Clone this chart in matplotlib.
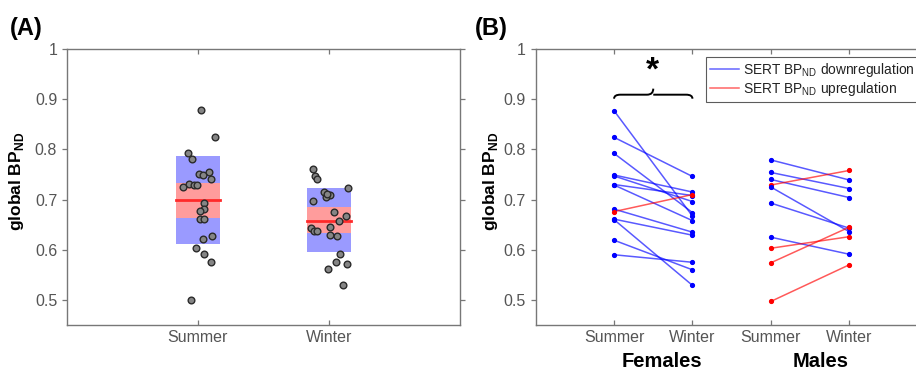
import numpy as np
import matplotlib
matplotlib.use('Agg')
import matplotlib.pyplot as plt
from matplotlib.path import Path
from matplotlib.patches import PathPatch, Rectangle
from matplotlib.lines import Line2D

plt.rcParams['font.family'] = ['Liberation Sans', 'DejaVu Sans']
plt.rcParams['mathtext.fontset'] = 'custom'
plt.rcParams['mathtext.rm'] = 'Liberation Sans'
plt.rcParams['mathtext.bf'] = 'Liberation Sans:bold'

# ---- panel A data ----
seasons = ['Summer', 'Winter']
summer_vals = [0.878, 0.824, 0.793, 0.780, 0.754, 0.750, 0.748, 0.741, 0.731, 0.726, 0.729, 0.730,
               0.694, 0.681, 0.677, 0.661, 0.661, 0.627, 0.621, 0.604, 0.592, 0.575, 0.499]
summer_jit = [0.023, 0.127, -0.074, -0.046, 0.081, 0.010, 0.038, 0.097, -0.069, -0.115, -0.028, -0.008,
              0.048, 0.048, 0.013, 0.013, 0.043, 0.109, 0.041, -0.013, 0.043, 0.102, -0.053]
winter_vals = [0.760, 0.746, 0.741, 0.723, 0.715, 0.710, 0.706, 0.712, 0.697, 0.675, 0.667, 0.658,
               0.644, 0.638, 0.638, 0.645, 0.629, 0.628, 0.592, 0.576, 0.571, 0.561, 0.530]
winter_jit = [-0.120, -0.109, -0.089, 0.148, -0.041, 0.005, -0.025, -0.013, -0.122, 0.036, 0.127, 0.076,
              -0.135, -0.117, -0.094, 0.008, 0.005, 0.064, 0.081, 0.056, 0.137, -0.005, 0.104]
box_mean = [0.699, 0.658]
sd_lo = [0.611, 0.595]
sd_hi = [0.787, 0.723]
ci_lo = [0.663, 0.633]
ci_hi = [0.734, 0.685]

# ---- panel B data ----
fem_summer = [0.877, 0.824, 0.792, 0.749, 0.747, 0.730, 0.729, 0.681, 0.661, 0.660, 0.619, 0.590, 0.676]
fem_winter = [0.667, 0.746, 0.674, 0.715, 0.696, 0.708, 0.658, 0.635, 0.629, 0.529, 0.560, 0.575, 0.710]
male_summer = [0.779, 0.754, 0.740, 0.729, 0.725, 0.693, 0.625, 0.603, 0.574, 0.497]
male_winter = [0.739, 0.722, 0.704, 0.758, 0.636, 0.643, 0.591, 0.626, 0.645, 0.570]
b_ticklabels = ['Summer', 'Winter', 'Summer', 'Winter']
groups = ['Females', 'Males']

yticks = [0.5, 0.6, 0.7, 0.8, 0.9, 1.0]
spine_col = '#777777'
tick_col = '#555555'


def style_axis(ax):
    for s in ax.spines.values():
        s.set_color(spine_col)
        s.set_linewidth(1.0)
    ax.tick_params(axis='both', which='both', colors=spine_col, labelcolor=tick_col,
                   labelsize=11.5, length=3.5, width=0.9)
    ax.tick_params(axis='x', direction='in', top=True)
    ax.tick_params(axis='y', right=True)
    ax.tick_params(axis='y', which='both', direction='out', left=True)
    ax.set_ylim(0.45, 1.0)
    ax.set_yticks(yticks)
    ax.set_yticklabels(['%g' % t for t in yticks])


fig = plt.figure(figsize=(9.16, 3.70), dpi=100)
axA = fig.add_axes([0.0731, 0.1216, 0.4290, 0.7459])
axB = fig.add_axes([0.5848, 0.1216, 0.4279, 0.7459])

# ---- panel A ----
hw = 0.17
for i in range(2):
    xc = i + 1
    axA.add_patch(Rectangle((xc - hw, sd_lo[i]), 2 * hw, sd_hi[i] - sd_lo[i],
                            facecolor='#9a9aff', edgecolor='none', zorder=1))
    axA.add_patch(Rectangle((xc - hw, ci_lo[i]), 2 * hw, ci_hi[i] - ci_lo[i],
                            facecolor='#ff9c9c', edgecolor='none', zorder=2))
    axA.plot([xc - hw, xc + hw], [box_mean[i], box_mean[i]], color='#ff2a2a', lw=2, zorder=3)

axA.plot(1 + np.array(summer_jit), summer_vals, 'o', ms=4.8, mfc='#858585', mec='#2a2a2a', mew=1.0, zorder=4)
axA.plot(2 + np.array(winter_jit), winter_vals, 'o', ms=4.8, mfc='#858585', mec='#2a2a2a', mew=1.0, zorder=4)

style_axis(axA)
axA.set_xlim(0, 3)
axA.set_xticks([1, 2])
axA.set_xticklabels(seasons)
axA.set_ylabel(r'global BP$_{\mathbf{ND}}$', fontsize=12.5, fontweight='bold', color='black')
axA.yaxis.set_label_coords(-0.104, 0.52)

# ---- panel B ----
blue = (0.0, 0.0, 1.0)
red = (1.0, 0.0, 0.0)
for xs, s_vals, w_vals in [(1, fem_summer, fem_winter), (3, male_summer, male_winter)]:
    for s, w in zip(s_vals, w_vals):
        c = red if w > s else blue
        axB.plot([xs, xs + 1], [s, w], '-', color=c, lw=1.1, alpha=0.65, zorder=2)
        axB.plot([xs, xs + 1], [s, w], '.', color=c, ms=5.5, zorder=3)

style_axis(axB)
axB.set_xlim(0, 5)
axB.set_xticks([1, 2, 3, 4])
axB.set_xticklabels(b_ticklabels)
axB.set_ylabel(r'global BP$_{\mathbf{ND}}$', fontsize=12.5, fontweight='bold', color='black')
axB.yaxis.set_label_coords(-0.092, 0.52)

# group labels
axB.text(1.61, -0.097, groups[0], transform=axB.get_xaxis_transform(), ha='center', va='top',
         fontsize=14.5, fontweight='bold')
axB.text(3.63, -0.097, groups[1], transform=axB.get_xaxis_transform(), ha='center', va='top',
         fontsize=14.5, fontweight='bold')

# significance brace
yb, yt, ym = 0.901, 0.909, 0.921
verts = [(1.0, yb), (1.0, yt), (1.08, yt), (1.42, yt), (1.5, yt), (1.5, ym),
         (1.5, yt), (1.58, yt), (1.92, yt), (2.0, yt), (2.0, yb)]
codes = [Path.MOVETO, Path.CURVE3, Path.CURVE3, Path.LINETO, Path.CURVE3, Path.CURVE3,
         Path.MOVETO, Path.CURVE3, Path.LINETO, Path.CURVE3, Path.CURVE3]
axB.add_patch(PathPatch(Path(verts, codes), facecolor='none', edgecolor='black', lw=1.4, zorder=5))
axB.text(1.49, 0.925, '*', ha='center', va='bottom', fontsize=24, fontweight='bold')

handles = [Line2D([], [], color=blue, lw=1.1, alpha=0.6),
           Line2D([], [], color=red, lw=1.1, alpha=0.6)]
labels = [r'SERT BP$_{\mathrm{ND}}$ downregulation', r'SERT BP$_{\mathrm{ND}}$ upregulation']
leg = axB.legend(handles, labels, loc='upper left', bbox_to_anchor=(0.434, 0.972), borderaxespad=0,
                 fontsize=9.9, frameon=True, fancybox=False, edgecolor='#333333',
                 handlelength=2.1, handletextpad=0.3, labelspacing=0.1, borderpad=0.3)
leg.get_frame().set_linewidth(0.8)
for t in leg.get_texts():
    t.set_color('#222222')

fig.text(0.011, 0.955, '(A)', fontsize=17, fontweight='bold', va='top')
fig.text(0.5186, 0.955, '(B)', fontsize=17, fontweight='bold', va='top')

fig.savefig('out.png', dpi=100)
